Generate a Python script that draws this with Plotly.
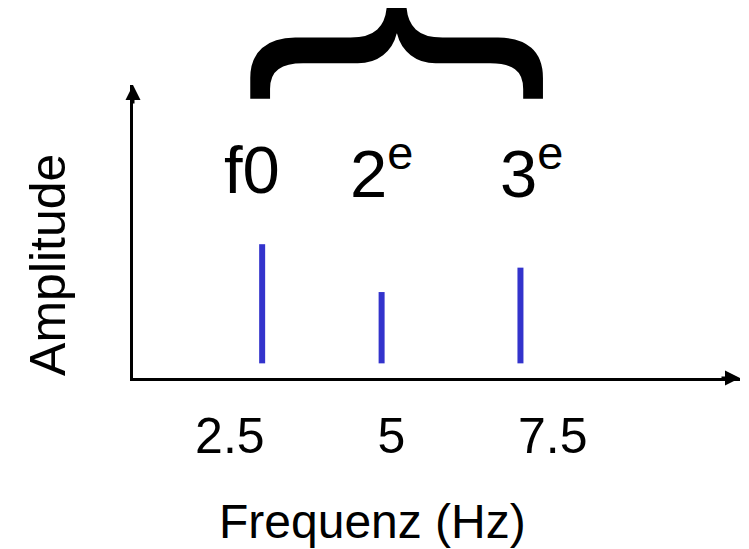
import plotly.graph_objects as go

# ---- data ----
freqs = [3.0, 4.85, 7.0]          # Hz, position of each harmonic line
amplitudes = [1.37, 0.88, 1.13]   # top of each line
base_level = 0.15                 # lines start slightly above the axis
harmonic_labels = ["f0", "2<sup>e</sup>", "3<sup>e</sup>"]
tick_values = [2.5, 5, 7.5]
tick_labels = ["2.5", "5", "7.5"]
x_title = "Frequenz (Hz)"
y_title = "Amplitude"

FONT = "Arial, Liberation Sans, sans-serif"
BLUE = "#3333CC"
label_xshift = [-10, 0, 11]

xs, ys = [], []
for f, a in zip(freqs, amplitudes):
    xs += [f, f, None]
    ys += [base_level, a, None]

fig = go.Figure()
fig.add_trace(go.Scatter(x=xs, y=ys, mode="lines",
                         line=dict(color=BLUE, width=6),
                         hoverinfo="skip", showlegend=False))

annotations = []
for f, lab, dx in zip(freqs, harmonic_labels, label_xshift):
    annotations.append(dict(x=f, xref="x", y=0.712, yref="paper",
                            text=lab, showarrow=False, xshift=dx,
                            font=dict(family=FONT, size=67, color="black"),
                            xanchor="center", yanchor="middle"))
# big curly brace above the labels
annotations.append(dict(x=0.477, xref="paper", y=1.113, yref="paper",
                        text="{", showarrow=False, textangle=90,
                        font=dict(family=FONT, size=314, color="black"),
                        xanchor="center", yanchor="middle"))
# axis titles
annotations.append(dict(x=-0.14, xref="paper", y=0.386, yref="paper",
                        text=y_title, showarrow=False, textangle=-90,
                        font=dict(family=FONT, size=50, color="black"),
                        xanchor="center", yanchor="middle"))
annotations.append(dict(x=0.394, xref="paper", y=-0.49, yref="paper",
                        text=x_title, showarrow=False,
                        font=dict(family=FONT, size=48, color="black"),
                        xanchor="center", yanchor="middle"))
# arrowheads on the axes
annotations.append(dict(x=1, xref="paper", y=0, yref="paper",
                        ax=-20, ay=0, text="", showarrow=True,
                        arrowhead=2, arrowsize=1, arrowwidth=3,
                        arrowcolor="black", standoff=0))
annotations.append(dict(x=0, xref="paper", y=1, yref="paper",
                        ax=0, ay=20, text="", showarrow=True,
                        arrowhead=2, arrowsize=1, arrowwidth=3,
                        arrowcolor="black", standoff=0))

fig.update_layout(
    width=749, height=549,
    margin=dict(l=125, r=17, t=77, b=179),
    paper_bgcolor="white", plot_bgcolor="white",
    font=dict(family=FONT, color="black"),
    annotations=annotations,
    xaxis=dict(range=[1, 10.4], showgrid=False, zeroline=False,
               showline=True, linewidth=3, linecolor="black",
               tickvals=tick_values, ticktext=tick_labels,
               ticks="outside", ticklen=12, tickcolor="rgba(0,0,0,0)",
               tickfont=dict(family=FONT, size=50, color="black"),
               automargin=False, fixedrange=True),
    yaxis=dict(range=[0, 3], showgrid=False, zeroline=False,
               showline=True, linewidth=3, linecolor="black",
               showticklabels=False, ticks="",
               automargin=False, fixedrange=True),
)

fig.write_html("out.html")
